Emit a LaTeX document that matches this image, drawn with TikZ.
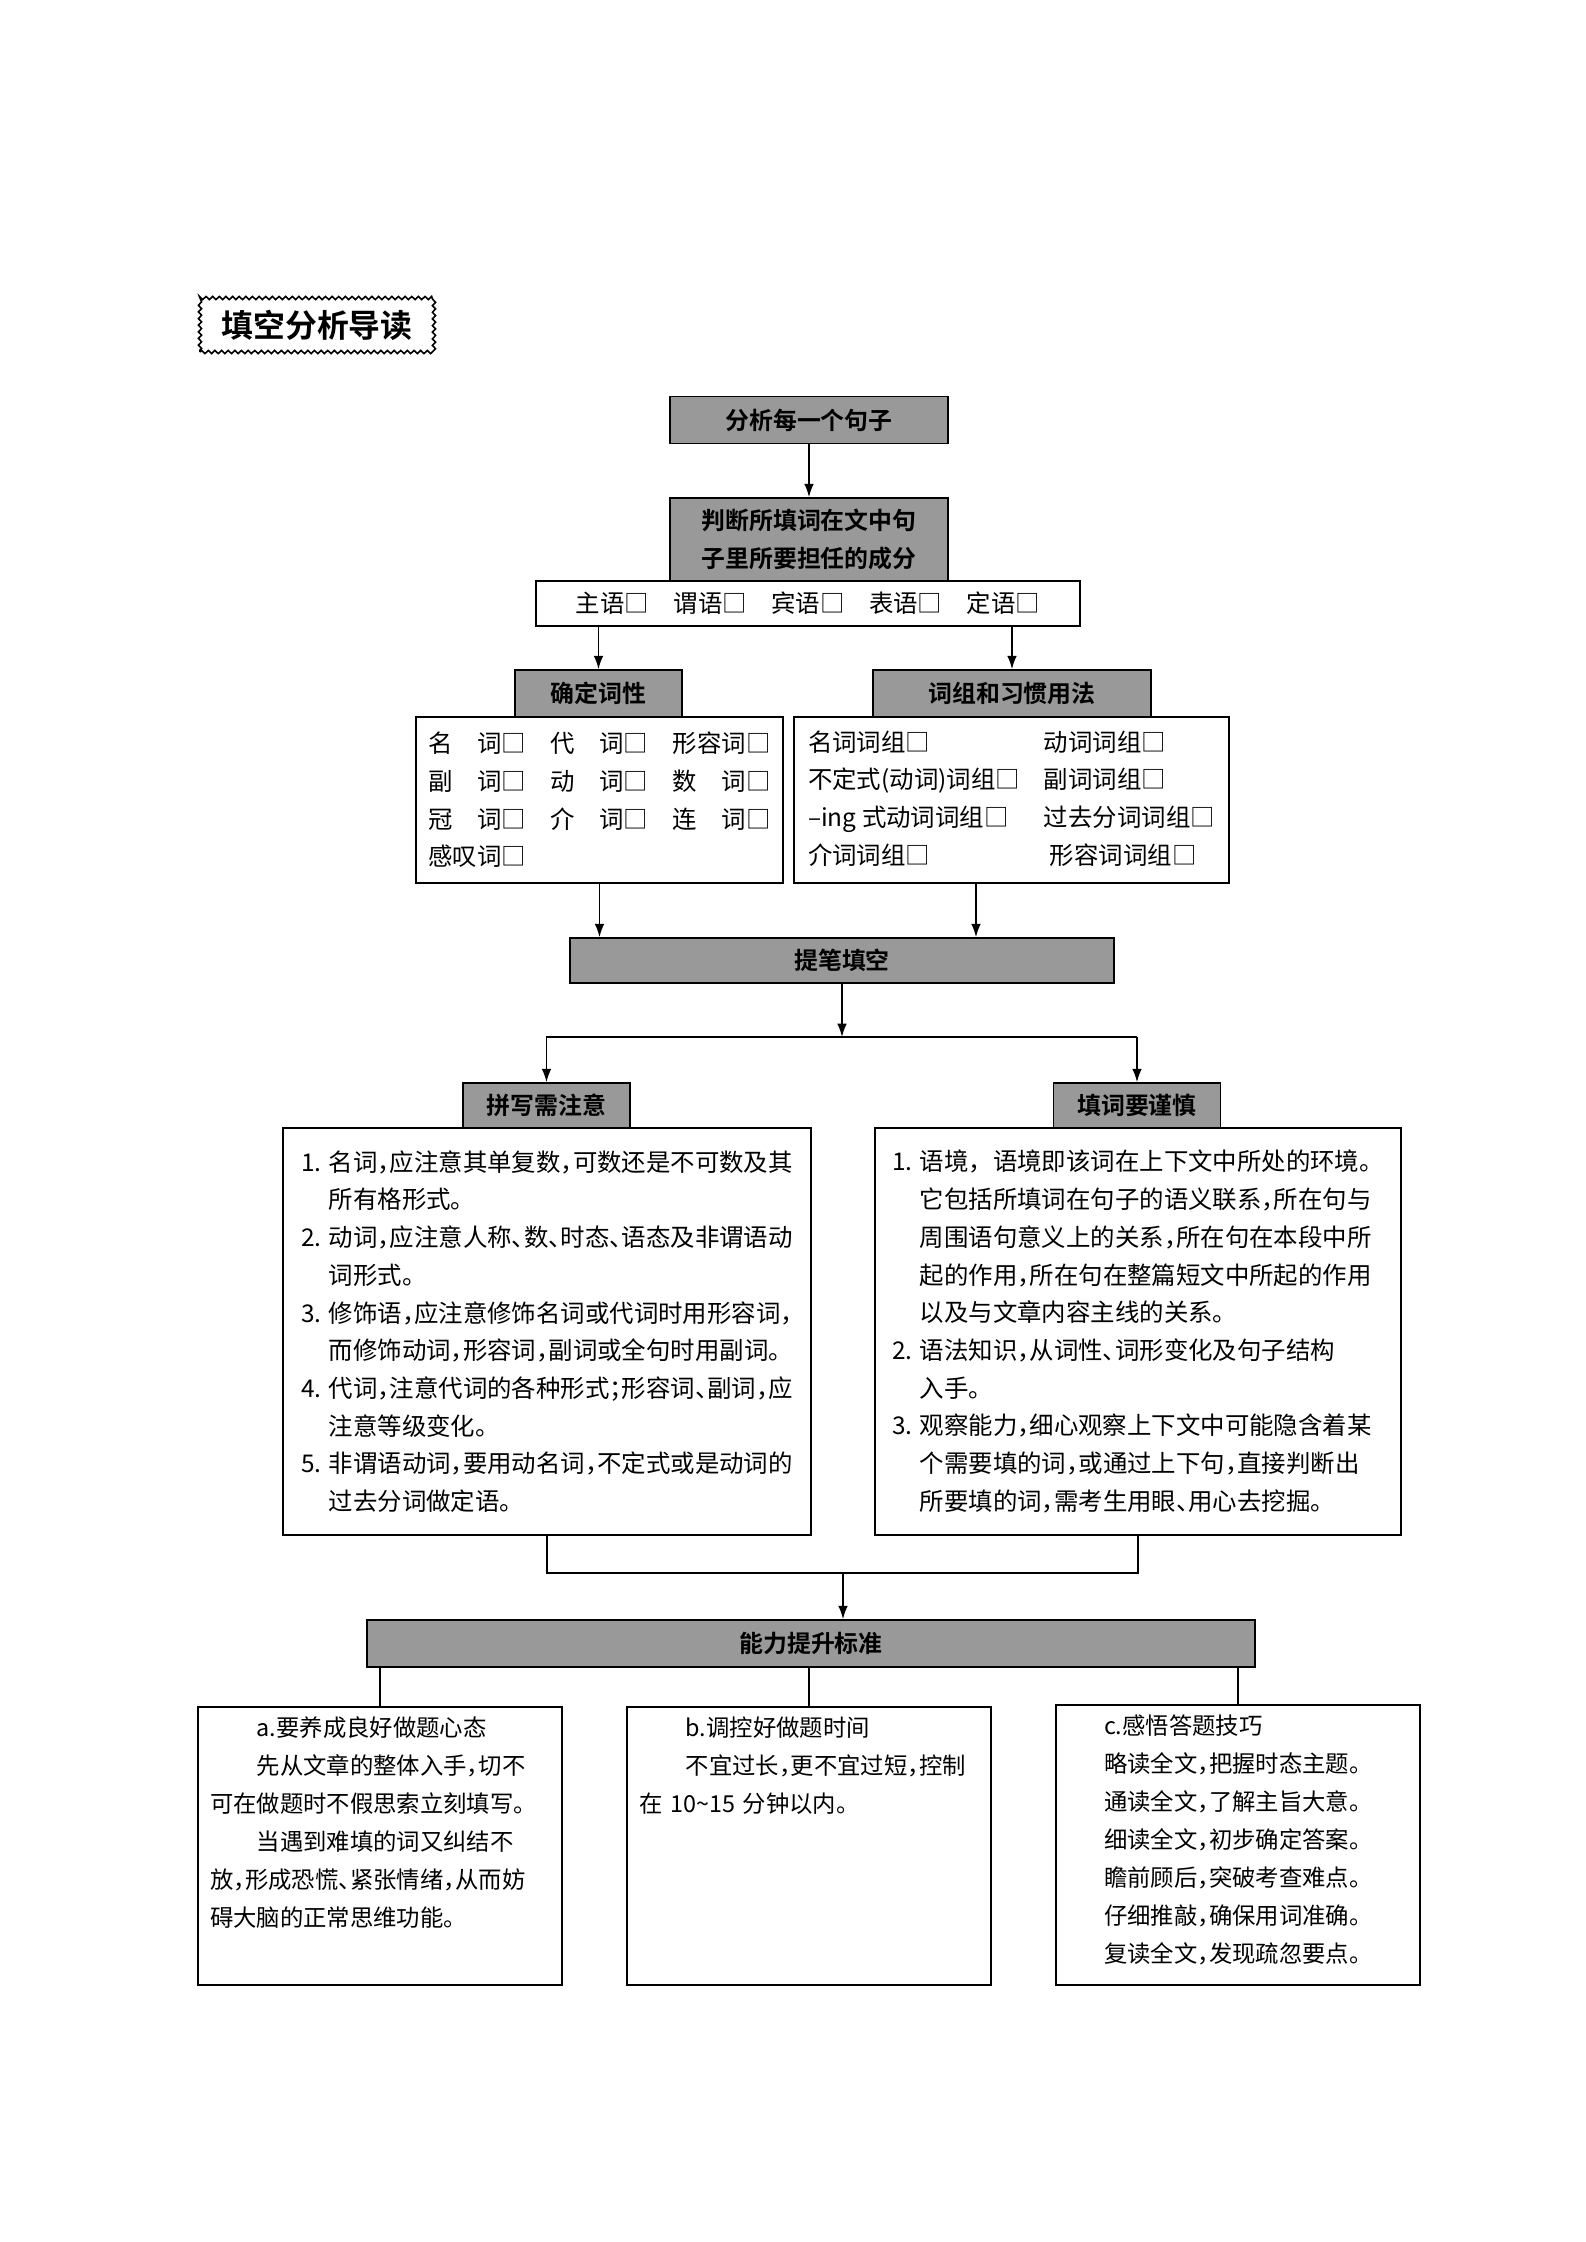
\documentclass[tikz,border=0pt]{standalone}
\usepackage{fontspec}
\setmainfont{Noto Sans CJK SC}[BoldFont={Noto Sans CJK SC Bold}]
\usetikzlibrary{positioning,calc,arrows.meta,decorations.pathmorphing}
\newdimen\px \px=0.1324mm
% half-width punctuation as in the printed page
\newcommand\dou{\makebox[.5em][l]{，}}
\newcommand\dun{\makebox[.5em][l]{、}}
\newcommand\fen{\makebox[.5em][l]{；}}
\newcommand\numpad{\hphantom{1. }}
\begin{document}
\begin{tikzpicture}[x=\px, y=-\px,
    every path/.style={line width=0.6pt},
    graybox/.style={draw, fill=black!40, inner sep=0pt, align=center,
      font=\fontsize{9}{14}\selectfont\bfseries},
    listbox/.style={draw, fill=white, inner sep=0pt, align=left,
      font=\fontsize{9.2}{14.2}\selectfont},
    tipbox/.style={draw, minimum width=364\px, minimum height=278\px},
    tiptext/.style={inner sep=0pt, align=left, text width=340\px,
      font=\fontsize{8.8}{14.3}\selectfont},
    headbox/.style={draw, decorate, decoration={zigzag, segment length=2.5pt, amplitude=0.6pt},
      minimum width=234\px, minimum height=54\px, font=\fontsize{12}{14}\selectfont\bfseries},
    arr/.style={-{Latex[length=5pt,width=3.6pt]}}]
    \fill[white] (0,0) rectangle (1586,2242);
    \useasboundingbox (0,0) rectangle (1586,2242);

    \node[headbox] (head) at (317,325) {填空分析导读};

    % top chain
    \node[graybox, minimum width=278\px, minimum height=47\px] (each) at (809,420) {分析每一个句子};
    \node[graybox, minimum width=278\px, minimum height=83\px] (role) at (809,539.5) {判断所填词在文中句\\子里所要担任的成分};
    \node[listbox, minimum width=544\px, minimum height=45\px] (parts) at (808,603.5) {主语□　谓语□　宾语□　表语□　定语□};

    \node[graybox, minimum width=167\px, minimum height=47\px] (cixing) at (598.5,693.5) {确定词性};
    \node[graybox, minimum width=278\px, minimum height=47\px] (cizu) at (1012,693.5) {词组和习惯用法};
    \node[listbox, minimum width=367\px, minimum height=166\px] (cixinglist) at (599.5,800) {名　词□　代　词□　形容词□\\副　词□　动　词□　数　词□\\冠　词□　介　词□　连　词□\\感叹词□};
    \node[listbox, minimum width=435\px, minimum height=166\px] (cizulist) at (1011.5,800) {%
      \begin{tabular}{@{}l@{\hspace{24\px}}l@{}}
        名词词组□ & 动词词组□\\
        不定式(动词)词组□ & 副词词组□\\
        –ing 式动词词组□ & 过去分词词组□\\
        介词词组□ & \hspace*{6\px}形容词词组□
      \end{tabular}};
    \coordinate (cizudown) at (976,883);

    \node[graybox, minimum width=544\px, minimum height=45\px] (tibi) at (842,960.5) {提笔填空};
    \coordinate (fork) at (842,1037);

    % two branches
    \node[graybox, minimum width=167\px, minimum height=45\px] (pinxie) at (546.5,1105.5) {拼写需注意};
    \node[listbox, minimum width=528\px, minimum height=407\px] (pinxielist) at (547,1331.5) {%
      1. 名词\dou 应注意其单复数\dou 可数还是不可数及其\\
      \numpad 所有格形式。\\
      2. 动词\dou 应注意人称\dun 数\dun 时态\dun 语态及非谓语动\\
      \numpad 词形式。\\
      3. 修饰语\dou 应注意修饰名词或代词时用形容词\dou\\
      \numpad 而修饰动词\dou 形容词\dou 副词或全句时用副词。\\
      4. 代词\dou 注意代词的各种形式\fen 形容词\dun 副词\dou 应\\
      \numpad 注意等级变化。\\
      5. 非谓语动词\dou 要用动名词\dou 不定式或是动词的\\
      \numpad 过去分词做定语。};

    \node[graybox, minimum width=167\px, minimum height=45\px] (tianci) at (1137,1105.5) {填词要谨慎};
    \node[listbox, minimum width=526\px, minimum height=407\px] (tiancilist) at (1138,1331.5) {%
      1. 语境，语境即该词在上下文中所处的环境。\\
      \numpad 它包括所填词在句子的语义联系\dou 所在句与\\
      \numpad 周围语句意义上的关系\dou 所在句在本段中所\\
      \numpad 起的作用\dou 所在句在整篇短文中所起的作用\\
      \numpad 以及与文章内容主线的关系。\\
      2. 语法知识\dou 从词性\dun 词形变化及句子结构\\
      \numpad 入手。\\
      3. 观察能力\dou 细心观察上下文中可能隐含着某\\
      \numpad 个需要填的词\dou 或通过上下句\dou 直接判断出\\
      \numpad 所要填的词\dou 需考生用眼\dun 用心去挖掘。};
    \coordinate (merge) at (843,1573);

    % bottom row
    \node[graybox, minimum width=888\px, minimum height=47\px] (nengli) at (811,1643.5) {能力提升标准};
    \node[tipbox] (tipa) at (380,1846) {};
    \node[tipbox] (tipb) at (809,1846) {};
    \node[tipbox, minimum height=280\px] (tipc) at (1238,1845) {};
    \node[tiptext, below right=10\px and 12\px of tipa.north west] (tipatext) {%
      \hspace*{2em}a.要养成良好做题心态\\
      \hspace*{2em}先从文章的整体入手\dou 切不\\
      可在做题时不假思索立刻填写。\\
      \hspace*{2em}当遇到难填的词又纠结不\\
      放\dou 形成恐慌\dun 紧张情绪\dou 从而妨\\
      碍大脑的正常思维功能。};
    \node[tiptext, below right=10\px and 12\px of tipb.north west] (tipbtext) {%
      \hspace*{2em}b.调控好做题时间\\
      \hspace*{2em}不宜过长\dou 更不宜过短\dou 控制\\
      在 10\textasciitilde 15 分钟以内。};
    \node[tiptext, text width=300\px, below right=10\px and 48\px of tipc.north west] (tipctext) {%
      c.感悟答题技巧\\
      略读全文\dou 把握时态主题。\\
      通读全文\dou 了解主旨大意。\\
      细读全文\dou 初步确定答案。\\
      瞻前顾后\dou 突破考查难点。\\
      仔细推敲\dou 确保用词准确。\\
      复读全文\dou 发现疏忽要点。};

    % connectors
    \draw[arr] (each) -- (role);
    \draw[arr] (parts.south -| cixing.north) -- (cixing.north);
    \draw[arr] (parts.south -| cizu.north) -- (cizu.north);
    \draw[arr] (cixinglist.south) -- (cixinglist.south |- tibi.north);
    \draw[arr] (cizudown) -- (cizudown |- tibi.north);
    \draw[arr] (tibi.south) -- (fork);
    \draw[arr] (tianci.north |- fork) -- (pinxie.north |- fork) -- (pinxie.north);
    \draw[arr] (tianci.north |- fork) -- (tianci.north);
    \draw (pinxielist.south) -- (pinxielist.south |- merge) -- (tiancilist.south |- merge) -- (tiancilist.south);
    \draw[arr] (merge) -- (merge |- nengli.north);
    \foreach \t in {tipa,tipb,tipc}
        \draw (nengli.south -| \t.north) -- (\t.north);
\end{tikzpicture}
\end{document}
